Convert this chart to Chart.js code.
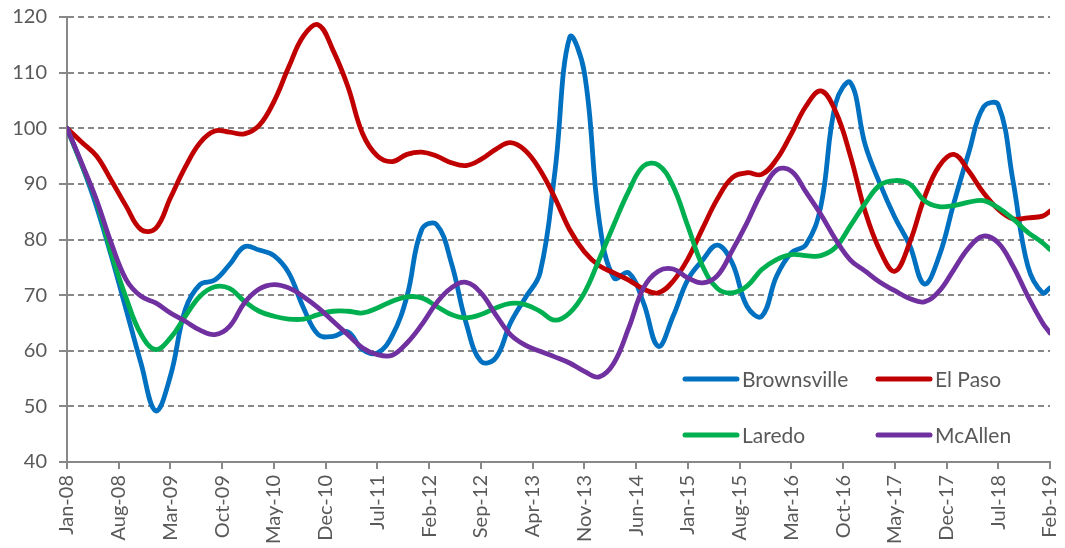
<!DOCTYPE html>
<html>
<head>
<meta charset="utf-8">
<script src="https://cdn.jsdelivr.net/npm/chart.js@4.4.1/dist/chart.umd.min.js"></script>
<style>
  html, body { margin: 0; padding: 0; background: #fff; }
  #wrap { width: 1065px; height: 548px; position: relative; }
</style>
</head>
<body>
<div id="wrap"><canvas id="chart"></canvas></div>
<script>
  // Month index from Jan-08 (0) to Feb-19 (133)
  const months = [0, 2, 4, 6, 8, 10, 12, 14, 16, 18, 20, 22, 24, 26, 28, 30, 32, 34, 36, 38,
    40, 42, 44, 46, 48, 50, 52, 54, 56, 58, 60, 62, 64, 66, 68, 70, 72, 74, 76, 78,
    80, 82, 84, 86, 88, 90, 92, 94, 96, 98, 100, 102, 104, 106, 108, 110, 112, 114, 116, 118,
    120, 122, 124, 126, 128, 130, 132, 133];

  const tickMonths = [0, 7, 14, 21, 28, 35, 42, 49, 56, 63, 70, 77, 84, 91, 98, 105, 112, 119, 126, 133];
  const tickLabels = ['Jan-08', 'Aug-08', 'Mar-09', 'Oct-09', 'May-10', 'Dec-10', 'Jul-11', 'Feb-12',
    'Sep-12', 'Apr-13', 'Nov-13', 'Jun-14', 'Jan-15', 'Aug-15', 'Mar-16', 'Oct-16', 'May-17',
    'Dec-17', 'Jul-18', 'Feb-19'];

  const brownsville = [100, 93.4, 85.9, 77, 67.4, 57.8, 49.2, 55.5, 67.4, 71.9, 72.7, 75.5, 78.7, 78.1, 77.1, 74,
    67.7, 62.9, 62.6, 63.4, 60.2, 59.6, 62.7, 69.8, 81.8, 82.7, 75.8, 65, 58.1, 58.7, 65, 69.5,
    74, 92, 116.3, 110, 83.5, 73.1, 74, 68.6, 60.8, 66.2, 72.8, 76.3, 79, 75.8, 68, 66.2,
    73.4, 77.6, 79.1, 86, 104.5, 108.2, 97, 90, 84, 79, 72, 77, 86.6, 95.6, 103.8, 104.2,
    90.5, 75.2, 70.4, 71.3];

  const elPaso = [100, 97.5, 95, 90.6, 86, 81.8, 82, 87.5, 93, 97.4, 99.5, 99.3, 99, 100.5, 104.8, 111,
    116.6, 118.6, 114, 107.5, 99, 95, 94, 95.3, 95.7, 95, 93.8, 93.3, 94.4, 96.2, 97.4, 96,
    92.5, 87.5, 81.8, 77.8, 75.3, 74, 72.7, 71.1, 70.4, 72.5, 76.5, 82, 87.3, 91.1, 92, 91.7,
    94.4, 99, 104, 106.7, 103, 95, 85, 78, 74.3, 79.4, 87.5, 93.2, 95.3, 92.3, 88.4, 85.4,
    83.7, 83.9, 84.2, 85.1];

  const laredo = [100, 93.4, 86.8, 77.5, 69.5, 63, 60.2, 62.3, 66.2, 69.8, 71.5, 71.2, 68.9, 67.1, 66.2, 65.7,
    65.7, 66.5, 67.1, 67.1, 66.8, 67.7, 68.9, 69.7, 69.5, 68, 66.5, 65.9, 66.5, 67.7, 68.5, 68.3,
    67.1, 65.5, 66.8, 70.4, 76.4, 82.7, 88.7, 93.2, 93.4, 89.6, 82.4, 75.2, 71.2, 70.4, 71.6, 74.6,
    76.4, 77.3, 77.1, 77.1, 78.6, 82.5, 86.5, 89.8, 90.6, 90, 87, 85.9, 86.1, 86.7, 87, 85.7,
    83.7, 81.3, 79.4, 78.2];

  const mcAllen = [100, 93.7, 87.1, 79.3, 72.8, 69.8, 68.6, 66.8, 65.3, 63.7, 62.9, 64.4, 68.6, 71.1, 71.9, 71.3,
    69.7, 67.7, 65.3, 62.9, 60.5, 59.3, 59.2, 61.4, 64.7, 68.6, 71.3, 72.3, 70.4, 66.5, 62.9, 61,
    59.9, 58.9, 57.8, 56.3, 55.3, 57.8, 64.1, 71.3, 74.3, 74.7, 73.1, 72.2, 73.5, 78, 83, 88.5,
    92.5, 92.3, 88.5, 84.5, 80, 76.3, 74.3, 72.3, 70.8, 69.4, 68.8, 70.7, 74.6, 78.5, 80.6, 79.4,
    75.2, 69.8, 65, 63.2];

  const axisGrey = '#888888';
  const textGrey = '#595959';

  function toPoints(values) {
    return values.map((v, i) => ({ x: months[i], y: v }));
  }

  function series(label, values, color, order) {
    return {
      label: label,
      data: toPoints(values),
      borderColor: color,
      backgroundColor: color,
      borderWidth: 4.8,
      borderJoinStyle: 'round',
      borderCapStyle: 'round',
      pointRadius: 0,
      tension: 0.4,
      fill: false,
      order: order
    };
  }

  // Two-by-two legend sitting inside the plot, bottom right
  const cornerLegend = {
    id: 'cornerLegend',
    afterDraw(chart) {
      const ctx = chart.ctx;
      const area = chart.chartArea;
      const cols = [area.left + 618, area.left + 811];
      const rows = [area.bottom - 83, area.bottom - 27];
      ctx.save();
      ctx.font = '21px Lato';
      ctx.textBaseline = 'middle';
      ctx.textAlign = 'left';
      chart.data.datasets.forEach((ds, i) => {
        const x = cols[i % 2];
        const y = rows[Math.floor(i / 2)];
        ctx.strokeStyle = ds.borderColor;
        ctx.lineWidth = 5;
        ctx.lineCap = 'round';
        ctx.beginPath();
        ctx.moveTo(x, y);
        ctx.lineTo(x + 52, y);
        ctx.stroke();
        ctx.fillStyle = textGrey;
        ctx.fillText(ds.label, x + 57, y + 1);
      });
      ctx.restore();
    }
  };

  Chart.defaults.font.family = "Lato, 'Open Sans', sans-serif";
  Chart.defaults.color = textGrey;

  new Chart(document.getElementById('chart'), {
    type: 'line',
    data: {
      datasets: [
        series('Brownsville', brownsville, '#0070C0', 4),
        series('El Paso', elPaso, '#C00000', 3),
        series('Laredo', laredo, '#00B050', 2),
        series('McAllen', mcAllen, '#7030A0', 1)
      ]
    },
    options: {
      responsive: true,
      maintainAspectRatio: false,
      animation: false,
      layout: { padding: { top: 17, right: 15, left: 0, bottom: 0 } },
      plugins: {
        legend: { display: false },
        tooltip: { enabled: false }
      },
      scales: {
        x: {
          type: 'linear',
          min: 0,
          max: 133,
          afterBuildTicks: (scale) => {
            scale.ticks = tickMonths.map(v => ({ value: v }));
          },
          afterFit: (scale) => {
            scale.height = 86;
            scale.paddingLeft = 0;
            scale.paddingRight = 0;
          },
          ticks: {
            autoSkip: false,
            maxRotation: 90,
            minRotation: 90,
            padding: 6,
            color: textGrey,
            font: { size: 20 },
            callback: (v) => tickLabels[tickMonths.indexOf(v)]
          },
          grid: { drawOnChartArea: false, drawTicks: true, tickLength: 7, color: axisGrey, lineWidth: 2 },
          border: { color: axisGrey, width: 2 }
        },
        y: {
          min: 40,
          max: 120,
          afterFit: (scale) => {
            scale.width = 67;
            scale.paddingTop = 0;
            scale.paddingBottom = 0;
          },
          ticks: { stepSize: 10, padding: 12, color: textGrey, font: { size: 20 } },
          grid: { color: axisGrey, lineWidth: 2, tickLength: 8 },
          border: { dash: [6, 4], color: axisGrey, width: 2 }
        }
      }
    },
    plugins: [cornerLegend]
  });
</script>
</body>
</html>
